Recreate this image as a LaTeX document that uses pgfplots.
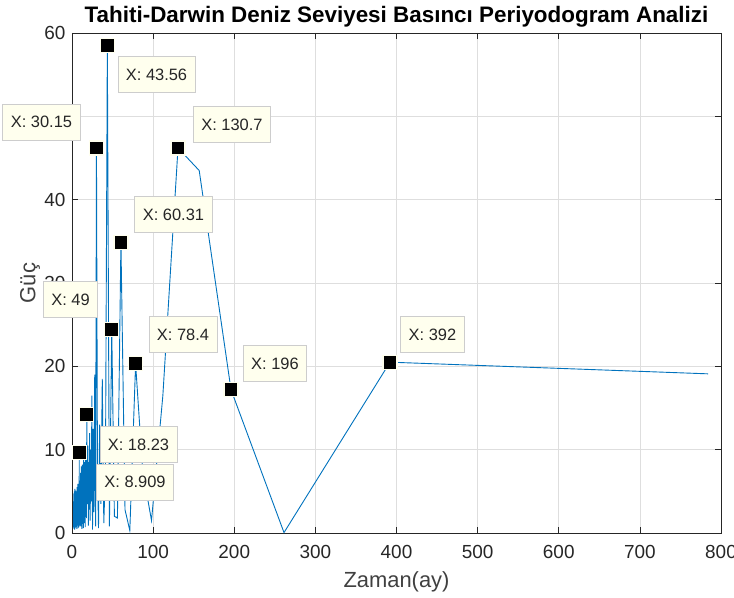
\documentclass[border=0pt]{standalone}
\usepackage{pgfplots}
\usepackage{pgfplotstable}
\pgfplotsset{compat=1.18}
\usepackage{fontspec}
\setmainfont{Liberation Sans}
\definecolor{mblue}{RGB}{0,114,189}
\definecolor{axgray}{RGB}{38,38,38}
\definecolor{labgray}{RGB}{64,64,64}
\definecolor{tipfill}{RGB}{255,255,238}
\definecolor{tipedge}{RGB}{205,205,205}
\tikzset{tip/.style={draw=tipedge, fill=tipfill, font=\fontsize{16.5}{19}\selectfont, text=black!85, inner xsep=8bp, minimum height=36bp, line width=0.8bp}}
\pgfplotstableread{
p y
784 19.1
392 20.5
261.33 0.05
196 17.2
156.8 43.5
130.67 46.2
112 16.5
98 1.5
87.11 7.5
78.4 20.3
71.27 0.3
65.33 2.8
60.31 34.9
56 1.8
52.27 2.0
49 24.4
46.12 0.8
43.56 58.5
41.26 7.5
39.2 1.2
37.33 18.5
35.64 3.5
34.09 13
32.67 0.6
31.36 8
30.15 46.2
29.04 0.8
28 19
27.03 2.5
26.13 12.5
25.29 0.4
24.5 16.5
23.76 3.8
23.06 10
22.4 1.5
21.78 12
21.19 2.8
20.63 8.5
20.1 0.9
19.6 10.5
19.12 3.5
18.67 6.5
18.23 14.2
17.82 1.8
17.42 8.8
17.04 2.5
16.68 9.5
16.33 0.7
16 7.2
15.68 3.8
15.37 8.5
15.08 1.2
14.79 6.8
14.52 2.9
14.25 9
14.00 0.6
13.75 7.8
13.52 3.2
13.29 5.5
13.07 1.1
12.85 8.2
12.65 2.4
12.44 6.1
12.25 0.5
12.06 7.4
11.88 3.6
11.70 5.2
11.53 1.4
11.36 8.0
11.20 2.2
11.04 6.6
10.89 0.8
10.74 5.8
10.59 3.1
10.45 7.2
10.32 1.6
10.18 4.9
10.05 2.7
9.92 6.3
9.80 0.9
9.68 5.5
9.56 2.0
9.45 4.4
9.33 1.1
9.22 6.0
9.12 2.6
9.01 4.0
8.909 9.7
8.81 1.3
8.71 5.1
8.62 2.3
8.52 4.6
8.43 0.7
8.34 5.6
8.25 2.9
8.17 4.2
8.08 1.0
8.00 5.3
7.92 2.1
7.84 3.9
7.69 0.6
7.54 4.8
7.40 2.4
7.26 5.9
7.13 1.3
7.00 4.5
6.88 2.7
6.76 5.2
6.64 0.9
6.53 4.1
6.43 2.2
6.32 5.5
6.22 1.5
6.13 3.8
6.03 0.5
5.94 4.6
5.85 2.6
5.76 5.0
5.68 1.2
5.60 3.5
5.52 2.0
5.44 4.9
5.37 0.8
5.30 3.7
5.23 2.3
5.09 4.8
4.96 1.4
4.84 3.9
4.72 0.7
4.61 4.4
4.51 2.5
4.40 5.1
4.31 1.0
4.22 3.6
4.13 2.0
4.04 4.7
3.96 0.6
3.88 3.3
3.81 1.8
3.73 4.5
3.66 2.4
3.60 5.3
3.53 0.9
3.47 3.8
3.41 1.5
3.35 4.2
3.29 2.7
3.24 4.9
3.19 0.4
3.14 3.4
3.09 1.9
3.04 4.6
2.99 1.1
2.95 3.9
2.90 2.2
2.86 5.0
2.82 0.8
2.78 3.6
2.74 1.6
2.70 4.3
2.67 2.5
2.63 4.8
2.60 0.5
2.56 3.2
2.53 1.7
2.50 4.4
2.47 2.9
2.43 3.7
2.40 0.9
2.38 4.1
2.35 2.0
2.32 4.7
2.29 1.2
2.27 3.5
2.24 2.6
2.21 4.0
2.19 0.6
2.17 3.3
2.14 1.9
2.12 4.5
2.10 1.0
2.07 3.0
2.05 2.3
2.03 3.8
2.01 0.7
2.00 2.5
}\dataT
\pgfplotstableread{
p y
43.56 58.5
30.15 46.2
130.67 46.2
60.31 34.9
49 24.4
78.4 20.3
196 17.2
392 20.5
18.23 14.2
8.909 9.7
}\tipsT
\begin{document}
\begin{tikzpicture}
\begin{axis}[
 scale only axis, width=649bp, height=500bp,
 xmin=0, xmax=800, ymin=0, ymax=60,
 xtick={0,100,...,800}, ytick={0,10,...,60},
 grid=major, major grid style={draw=black!13, line width=0.6bp},
 axis line style={draw=axgray, line width=0.6bp},
 tick style={draw=axgray, line width=0.6bp},
 tick align=inside, major tick length=6bp,
 ticklabel style={font=\fontsize{19}{22}\selectfont, text=axgray},
 xticklabel style={yshift=-9bp},
 yticklabel style={xshift=-3bp},
 /pgf/number format/assume math mode=true,
 xlabel={Zaman(ay)}, ylabel={Güç},
 label style={font=\fontsize{22}{26}\selectfont, text=labgray},
 xlabel style={at={([yshift=-49bp]rel axis cs:0.5,0)}, anchor=center},
 ylabel style={at={([xshift=-42bp]rel axis cs:0,0.5)}, anchor=center},
 title={Tahiti-Darwin Deniz Seviyesi Basıncı Periyodogram Analizi},
 title style={font=\bfseries\fontsize{22.5}{26}\selectfont, at={([yshift=10bp]rel axis cs:0.5,1)}, anchor=center},
 clip=false,
]
\addplot[mblue, line width=0.9bp, mark=none] table[x=p,y=y]{\dataT};
\addplot[only marks, mark=square*, mark size=7bp, mark options={fill=black, draw=tipfill, line width=1.2bp}] table[x=p,y=y]{\tipsT};
\node[tip] at (axis cs:104.2,55.0) {X: 43.56};
\node[tip] at (axis cs:-37.6,49.3) {X: 30.15};
\node[tip] at (axis cs:197.2,49.0) {X: 130.7};
\node[tip] at (axis cs:125.1,38.2) {X: 60.31};
\node[tip] at (axis cs:-1.8,28.0) {X: 49};
\node[tip] at (axis cs:136.8,23.8) {X: 78.4};
\node[tip] at (axis cs:250.2,20.3) {X: 196};
\node[tip] at (axis cs:444.3,23.8) {X: 392};
\node[tip] at (axis cs:82.0,10.6) {X: 18.23};
\node[tip] at (axis cs:77.7,6.1) {X: 8.909};
\coordinate (SW) at (rel axis cs:0,0);
\coordinate (NE) at (rel axis cs:1,1);
\end{axis}
\pgfresetboundingbox
\path[use as bounding box] ([shift={(-72bp,-64bp)}]SW) rectangle ([shift={(13bp,33bp)}]NE);
\end{tikzpicture}
\end{document}
